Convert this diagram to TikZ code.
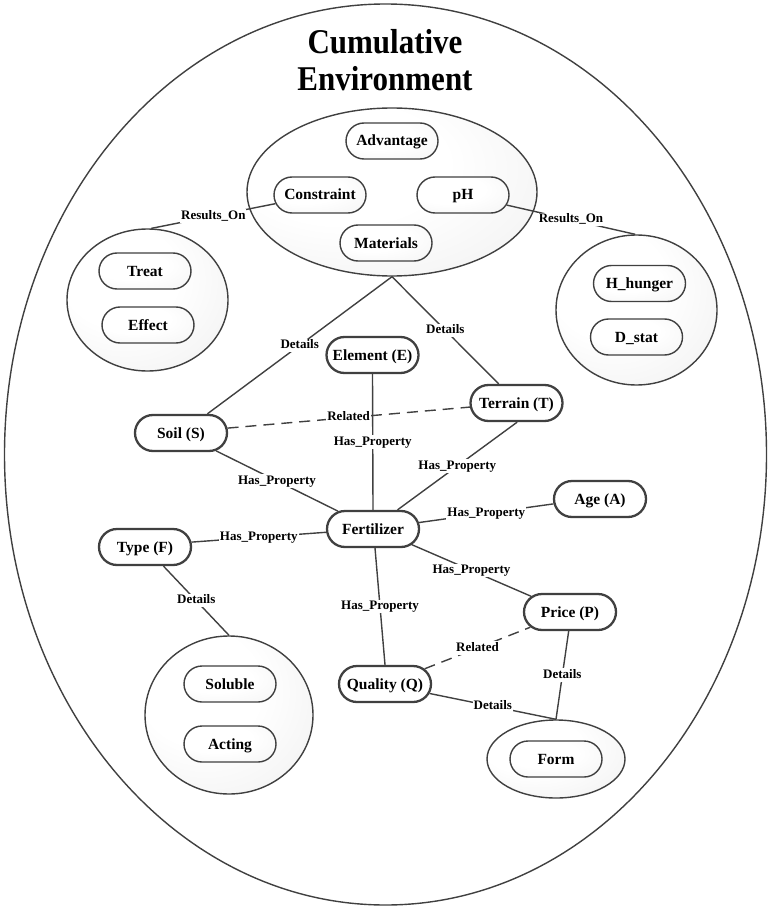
\documentclass[tikz,border=0pt]{standalone}
\usepackage{fontspec}
\setmainfont{Liberation Serif}
\usetikzlibrary{shapes.misc,shapes.geometric}
\definecolor{ln}{HTML}{404040}
\newcommand{\nodefnt}{\fontsize{15.5}{18}\selectfont\bfseries}
\newcommand{\lblfnt}{\fontsize{13}{15}\selectfont\bfseries}
\newcommand{\titlefnt}{\fontsize{31}{36}\selectfont\bfseries}
\pgfdeclareradialshading{grpshade}{\pgfpoint{-12bp}{12bp}}{color(0bp)=(white); color(18bp)=(white); color(62bp)=(black!11)}
\pgfdeclareradialshading{boxshade}{\pgfpoint{-12bp}{12bp}}{color(0bp)=(white); color(20bp)=(white); color(62bp)=(black!8)}
\tikzset{
  grp/.style={ellipse, draw=ln, line width=1.4pt, shading=grpshade, inner sep=0pt},
  inbox/.style={rounded rectangle, draw=ln, line width=1.4pt, shading=boxshade,
    minimum width=96pt, minimum height=36pt, inner sep=2pt, font=\nodefnt, text height=12pt, text depth=2pt},
  ent/.style={rounded rectangle, draw=ln, line width=2.3pt, fill=white,
    minimum width=96pt, minimum height=36pt, inner sep=2pt, font=\nodefnt, text height=12pt, text depth=2pt},
  conn/.style={draw=ln, line width=1.4pt},
  rel/.style={conn, dash pattern=on 11pt off 7pt},
  lbl/.style={fill=white, inner sep=1pt, font=\lblfnt, text height=9pt, text depth=2.5pt},
  ttl/.style={font=\titlefnt, inner sep=0pt},
}
\begin{document}
\begin{tikzpicture}[x=1pt, y=-1pt]
\useasboundingbox (0,0) rectangle (771,909);
% outer environment
\node[ellipse, draw=ln, line width=1.4pt, minimum width=762pt, minimum height=901pt, inner sep=0pt] (outer) at (385.5,454.5) {};
\node[ttl] (t1) at (385,42) {\scalebox{1}[1.12]{Cumulative}};
\node[ttl] (t2) at (385,79) {\scalebox{1}[1.12]{Environment}};
% groups
\node[grp, minimum width=290pt, minimum height=168pt] (tg) at (392,192) {};
\node[grp, minimum width=161pt, minimum height=142pt] (lg) at (147.5,300) {};
\node[grp, minimum width=161pt, minimum height=150pt] (rg) at (636.5,310) {};
\node[grp, minimum width=168pt, minimum height=158pt] (typg) at (229,715) {};
\node[grp, minimum width=138pt, minimum height=78pt] (formg) at (556,759) {};
% inner boxes
\node[inbox] (adv) at (392,141) {Advantage};
\node[inbox] (con) at (320,195) {Constraint};
\node[inbox] (ph) at (463,195) {pH};
\node[inbox] (mat) at (386,243) {Materials};
\node[inbox] (treat) at (145,271) {Treat};
\node[inbox] (effect) at (148,325) {Effect};
\node[inbox] (hh) at (639.5,283.5) {H\_hunger};
\node[inbox] (ds) at (636.5,337) {D\_stat};
\node[inbox] (sol) at (230,684) {Soluble};
\node[inbox] (act) at (230,744) {Acting};
\node[inbox] (form) at (556,759) {Form};
% entities
\node[ent] (elem) at (372.5,355) {Element (E)};
\node[ent] (terr) at (516.5,403) {Terrain (T)};
\node[ent] (soil) at (181,433) {Soil (S)};
\node[ent] (fert) at (373,529) {Fertilizer};
\node[ent] (age) at (600,499) {Age (A)};
\node[ent] (type) at (145,547) {Type (F)};
\node[ent] (price) at (570,612) {Price (P)};
\node[ent] (qual) at (385,684) {Quality (Q)};
% connectors
\draw[conn] (con.191) -- node[lbl]{Results\_On} (lg.87);
\draw[conn] (ph.-13) -- node[lbl]{Results\_On} (rg.91);
\draw[conn] (tg.south) -- node[lbl]{Details} (soil.36);
\draw[conn] (tg.south) -- node[lbl]{Details} (terr.133);
\draw[conn] (elem.south) -- node[lbl]{Has\_Property} (fert.north);
\draw[rel] (soil.6) -- node[lbl]{Related} (terr.185);
\draw[conn] (soil.-27) -- node[lbl]{Has\_Property} (fert.153);
\draw[conn] (terr.-88) -- node[lbl]{Has\_Property} (fert.38);
\draw[conn] (fert.8) -- node[lbl]{Has\_Property} (age.186);
\draw[conn] (fert.184) -- node[lbl]{Has\_Property} (type.6);
\draw[conn] (fert.-22) -- node[lbl]{Has\_Property} (price.158);
\draw[conn] (fert.-84) -- node[lbl]{Has\_Property} (qual.north);
\draw[conn] (type.-46) -- node[lbl]{Details} (typg.north);
\draw[rel] (qual.21) -- node[lbl]{Related} (price.201);
\draw[conn] (price.-94) -- node[lbl]{Details} (formg.north);
\draw[conn] (qual.-12) -- node[lbl]{Details} (formg.north);
\end{tikzpicture}
\end{document}
